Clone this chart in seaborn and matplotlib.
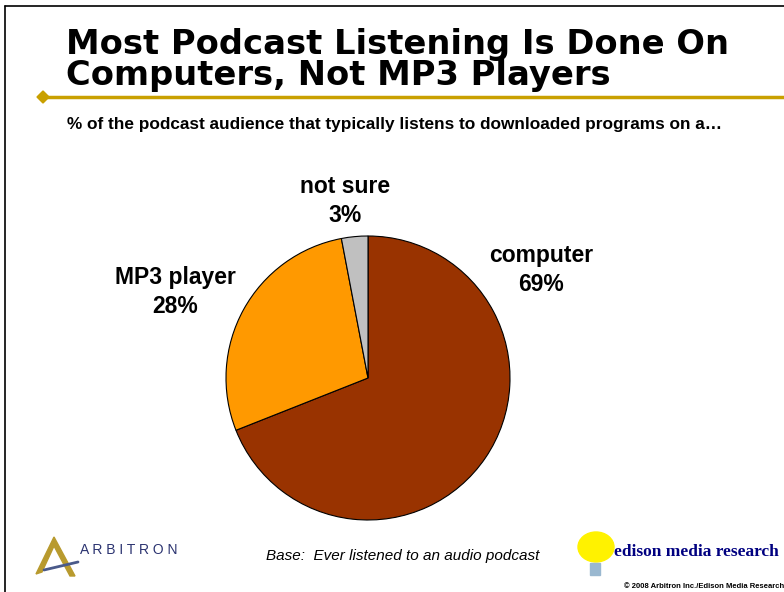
import matplotlib
matplotlib.use("Agg")
import matplotlib.pyplot as plt
import matplotlib.patches as patches
import seaborn as sns

# data
categories = ["computer", "MP3 player", "not sure"]
shares = [69, 28, 3]
colors = ["#993300", "#FF9900", "#C0C0C0"]

title_lines = ["Most Podcast Listening Is Done On", "Computers, Not MP3 Players"]
subtitle = "% of the podcast audience that typically listens to downloaded programs on a\u2026"
base_note = "Base:  Ever listened to an audio podcast"

sns.set_theme(style="white")
plt.rcParams['font.family'] = ['Liberation Sans', 'DejaVu Sans']
plt.rcParams['text.color'] = 'black'

W, H = 784, 592
fig = plt.figure(figsize=(W / 100, H / 100), dpi=100)
fig.patch.set_facecolor("white")

def fx(x):
    return x / W

def fy(y):
    return 1 - y / H

# frame lines (top and left)
fig.add_artist(plt.Line2D([fx(5), 1], [fy(6), fy(6)], color="black", lw=1.2))
fig.add_artist(plt.Line2D([fx(5), fx(5)], [fy(6), 0], color="black", lw=1.2))

# title, two lines set tight
for line, base in zip(title_lines, [54, 85]):
    fig.text(fx(66), fy(base), line, fontsize=24.3, fontweight="bold", va="baseline", ha="left",
             family=["DejaVu Sans"])

# gold rule with diamond
fig.add_artist(plt.Line2D([fx(43), 1], [fy(97), fy(97)], color="#C9A000", lw=2.5))
fig.add_artist(patches.Polygon([(fx(37), fy(97)), (fx(43), fy(91)), (fx(49), fy(97)), (fx(43), fy(103))],
                               closed=True, color="#C9A000", transform=fig.transFigure))

fig.text(fx(67), fy(124), subtitle, fontsize=12.4, fontweight="bold", va="center", ha="left")

# pie
r = 142
cx, cy = 368, 378
ax = fig.add_axes([fx(cx - r), fy(cy + r), 2 * r / W, 2 * r / H])
ax.pie(shares, colors=colors, startangle=90, counterclock=False,
       wedgeprops=dict(edgecolor="black", linewidth=0.8))
ax.set_xlim(-1, 1)
ax.set_ylim(-1, 1)
ax.set_aspect("equal")
ax.axis("off")

label_pos = {"computer": (1.218, 0.761), "MP3 player": (-1.359, 0.606), "not sure": (-0.162, 1.246)}
for cat, val in zip(categories, shares):
    x, y = label_pos[cat]
    ax.text(x, y, f"{cat}\n{val}%", ha="center", va="center", fontsize=16.5, fontweight="bold",
            linespacing=1.3, clip_on=False)

# footer
fig.text(fx(403), fy(556), base_note, fontsize=11, style="italic", ha="center", va="center")

# arbitron logo (simple)
fig.add_artist(patches.Polygon([(fx(36), fy(574)), (fx(54), fy(537)), (fx(75), fy(576)), (fx(70), fy(576)),
                                (fx(54), fy(546)), (fx(42), fy(572))],
                               closed=True, color="#B89A2E", transform=fig.transFigure))
fig.add_artist(plt.Line2D([fx(44), fx(78)], [fy(570), fy(562)], color="#4A5A8A", lw=2))
fig.text(fx(80), fy(550), "A R B I T R O N", fontsize=10, color="#2B3370", ha="left", va="center")

# edison logo (simple)
fig.add_artist(patches.Ellipse((fx(596), fy(547)), 36 / W, 30 / H, color="#FFF200",
                               transform=fig.transFigure))
fig.add_artist(patches.Rectangle((fx(590), fy(575)), 10 / W, 12 / H, color="#9AB8D0",
                                 transform=fig.transFigure))
fig.text(fx(614), fy(552), "edison media research", fontsize=12.5, fontweight="bold",
         family=["Liberation Serif", "DejaVu Serif"], color="#000080", ha="left", va="center")
fig.text(fx(784), fy(587), "\u00a9 2008 Arbitron Inc./Edison Media Research", fontsize=5.5,
         fontweight="bold", ha="right", va="center")

fig.savefig("out.png", dpi=100)
